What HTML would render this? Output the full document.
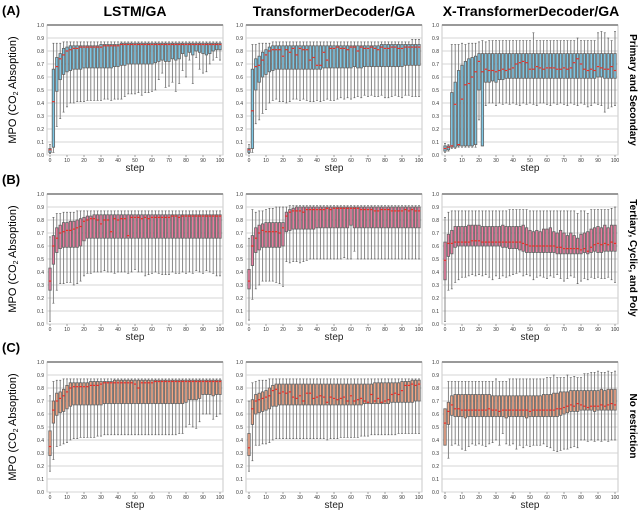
<!DOCTYPE html>
<html><head><meta charset="utf-8"><style>
html,body{margin:0;padding:0;background:#fff;width:640px;height:511px;overflow:hidden}
svg{display:block;font-family:"Liberation Sans",sans-serif}
</style></head><body>
<svg id="fig" width="640" height="511" viewBox="0 0 640 511" xmlns="http://www.w3.org/2000/svg">
<text x="2" y="15" font-size="13" font-weight="bold">(A)</text>
<text x="2" y="184" font-size="13" font-weight="bold">(B)</text>
<text x="2" y="352" font-size="13" font-weight="bold">(C)</text>
<text x="135" y="16" font-size="14" font-weight="bold" text-anchor="middle">LSTM/GA</text>
<text x="334" y="16" font-size="14" font-weight="bold" text-anchor="middle">TransformerDecoder/GA</text>
<text x="531" y="16" font-size="14" font-weight="bold" text-anchor="middle">X-TransformerDecoder/GA</text>
<text transform="translate(630,90) rotate(90)" font-size="10" font-weight="bold" text-anchor="middle">Primary and Secondary</text>
<text transform="translate(630,258) rotate(90)" font-size="10" font-weight="bold" text-anchor="middle">Tertiary, Cyclic, and Poly</text>
<text transform="translate(630,426) rotate(90)" font-size="10" font-weight="bold" text-anchor="middle">No restriction</text>
</svg>
<script>
const steps=[0,2,4,6,8,10,12,14,16,18,20,22,24,26,28,30,32,34,36,38,40,42,44,46,48,50,52,54,56,58,60,62,64,66,68,70,72,74,76,78,80,82,84,86,88,90,92,94,96,98,100];
const yTicks=[0,0.1,0.2,0.3,0.4,0.5,0.6,0.7,0.8,0.9,1.0];
const xTicks=[0,10,20,30,40,50,60,70,80,90,100];
// Panel A1 LSTM / Primary
const a1Lo=[.01,.02,.22,.28,.33,.37,.40,.40,.41,.41,.41,.42,.42,.42,.42,.42,.43,.43,.42,.43,.43,.43,.45,.47,.47,.47,.48,.46,.48,.48,.49,.50,.58,.63,.52,.53,.56,.49,.55,.65,.60,.73,.55,.75,.66,.63,.64,.70,.73,.75,.73];
const a1Q1=[.02,.06,.49,.58,.62,.64,.65,.66,.66,.66,.67,.67,.67,.67,.67,.67,.67,.67,.67,.68,.68,.69,.69,.70,.70,.70,.70,.70,.70,.70,.70,.71,.72,.73,.72,.72,.74,.73,.74,.78,.76,.79,.77,.80,.79,.78,.77,.78,.80,.81,.81];
const a1Med=[.04,.41,.68,.74,.77,.80,.81,.82,.82,.83,.83,.83,.83,.83,.83,.83,.84,.84,.84,.84,.84,.85,.85,.85,.85,.85,.85,.85,.85,.85,.85,.85,.85,.85,.85,.85,.85,.85,.85,.85,.85,.85,.85,.85,.85,.85,.85,.85,.85,.85,.85];
const a1Q3=[.05,.66,.75,.78,.82,.83,.84,.84,.84,.84,.84,.84,.84,.84,.84,.85,.85,.85,.85,.85,.85,.86,.86,.86,.86,.86,.86,.86,.86,.86,.86,.86,.86,.86,.86,.86,.86,.86,.86,.86,.86,.86,.86,.86,.86,.86,.86,.86,.86,.86,.86];
const a1Hi=[.08,.86,.86,.86,.87,.87,.87,.87,.87,.87,.87,.87,.87,.87,.87,.87,.87,.87,.87,.87,.87,.87,.87,.87,.87,.87,.87,.87,.87,.87,.87,.87,.87,.87,.87,.87,.87,.87,.87,.87,.87,.87,.87,.87,.87,.87,.87,.87,.87,.87,.87];
// Panel A2 Transformer / Primary
const a2Lo=[.01,.02,.24,.27,.32,.35,.40,.42,.43,.41,.41,.40,.41,.43,.43,.42,.43,.42,.41,.41,.42,.41,.42,.43,.42,.42,.43,.44,.43,.44,.43,.44,.45,.44,.46,.45,.46,.45,.45,.46,.44,.44,.45,.46,.45,.44,.46,.46,.45,.45,.45];
const a2Q1=[.02,.05,.50,.56,.60,.62,.64,.65,.66,.66,.66,.66,.66,.66,.66,.66,.66,.66,.66,.66,.66,.66,.67,.67,.67,.67,.67,.67,.67,.67,.67,.68,.67,.67,.68,.68,.68,.68,.68,.68,.68,.68,.68,.68,.68,.68,.69,.69,.69,.69,.69];
const a2Med=[.04,.34,.68,.69,.73,.77,.80,.81,.81,.81,.76,.81,.79,.82,.77,.82,.81,.81,.73,.75,.69,.69,.79,.73,.82,.82,.83,.82,.82,.81,.83,.83,.80,.83,.82,.82,.83,.82,.81,.83,.82,.82,.83,.83,.82,.82,.83,.83,.83,.83,.83];
const a2Q3=[.05,.66,.74,.76,.79,.81,.83,.84,.84,.84,.84,.84,.84,.84,.84,.84,.84,.84,.84,.84,.84,.84,.84,.84,.84,.84,.84,.84,.84,.84,.84,.84,.84,.84,.84,.84,.84,.84,.84,.85,.85,.85,.85,.85,.85,.85,.85,.85,.85,.85,.85];
const a2Hi=[.08,.85,.85,.86,.86,.86,.86,.87,.87,.87,.87,.87,.87,.87,.87,.87,.87,.87,.87,.87,.87,.87,.87,.87,.87,.87,.87,.87,.87,.87,.87,.87,.87,.87,.87,.87,.87,.87,.87,.87,.87,.87,.87,.87,.87,.87,.87,.87,.89,.89,.89];
// Panel A3 X-Transformer / Primary
const a3Lo=[.02,.03,.05,.05,.06,.06,.06,.06,.06,.06,.27,.07,.38,.40,.40,.38,.40,.39,.40,.39,.40,.39,.38,.40,.39,.40,.39,.38,.40,.40,.39,.38,.40,.39,.40,.39,.38,.40,.39,.38,.40,.39,.37,.38,.40,.39,.38,.33,.36,.37,.38];
const a3Q1=[.03,.04,.06,.06,.07,.07,.07,.07,.07,.08,.50,.07,.56,.56,.57,.56,.58,.58,.59,.59,.59,.59,.59,.59,.59,.59,.59,.59,.59,.59,.59,.59,.59,.59,.59,.59,.59,.59,.59,.59,.59,.59,.59,.59,.59,.60,.60,.59,.59,.59,.59];
const a3Med=[.05,.06,.07,.39,.08,.43,.54,.55,.60,.64,.72,.64,.66,.65,.65,.64,.65,.66,.65,.66,.67,.70,.71,.72,.71,.66,.66,.68,.67,.66,.67,.67,.67,.66,.66,.67,.66,.67,.71,.74,.70,.66,.65,.66,.65,.68,.67,.66,.66,.68,.65];
const a3Q3=[.07,.07,.48,.56,.65,.69,.72,.74,.75,.76,.78,.78,.78,.78,.78,.78,.78,.78,.78,.78,.78,.78,.78,.78,.78,.78,.78,.78,.78,.78,.78,.78,.78,.78,.78,.78,.78,.78,.78,.78,.78,.78,.78,.78,.78,.78,.78,.78,.78,.78,.78];
const a3Hi=[.09,.08,.85,.85,.85,.86,.85,.86,.86,.86,.87,.88,.87,.88,.88,.88,.88,.88,.88,.88,.88,.88,.88,.88,.88,.88,.94,.88,.88,.88,.88,.88,.88,.88,.88,.88,.88,.88,.88,.90,.88,.88,.88,.88,.88,.94,.95,.94,.90,.88,.95];
// Panel B1 LSTM / Tertiary
const b1Lo=[.02,.16,.26,.31,.31,.32,.32,.30,.31,.33,.37,.39,.39,.40,.40,.40,.41,.40,.40,.39,.40,.40,.40,.39,.40,.42,.40,.40,.37,.38,.39,.40,.39,.38,.38,.38,.40,.39,.39,.40,.39,.40,.39,.41,.40,.39,.41,.40,.39,.37,.37];
const b1Q1=[.26,.46,.55,.58,.59,.59,.59,.59,.59,.60,.64,.66,.66,.66,.66,.66,.66,.66,.66,.66,.66,.66,.66,.66,.66,.66,.66,.66,.66,.66,.66,.66,.66,.66,.66,.66,.66,.66,.66,.66,.66,.66,.66,.66,.66,.66,.66,.66,.66,.66,.66];
const b1Med=[.33,.60,.66,.70,.71,.72,.72,.73,.74,.75,.79,.80,.81,.81,.80,.77,.80,.80,.71,.81,.80,.81,.81,.68,.82,.82,.82,.81,.82,.81,.82,.82,.82,.82,.82,.82,.83,.83,.82,.83,.83,.83,.83,.83,.83,.83,.83,.83,.83,.83,.83];
const b1Q3=[.43,.68,.74,.76,.78,.78,.79,.79,.80,.81,.82,.83,.83,.84,.84,.84,.84,.84,.84,.84,.84,.84,.84,.84,.84,.84,.84,.84,.84,.84,.84,.84,.84,.84,.84,.84,.84,.84,.84,.84,.84,.84,.84,.84,.84,.84,.84,.84,.84,.84,.84];
const b1Hi=[.67,.82,.85,.85,.86,.86,.86,.86,.87,.87,.87,.87,.87,.87,.87,.87,.87,.87,.87,.87,.87,.87,.87,.87,.87,.87,.87,.87,.87,.87,.87,.87,.87,.87,.87,.87,.87,.87,.87,.87,.87,.87,.87,.87,.87,.87,.87,.87,.87,.87,.87];
// Panel B2 Transformer / Tertiary
const b2Lo=[.03,.19,.27,.30,.33,.33,.33,.33,.32,.31,.29,.48,.47,.48,.48,.47,.48,.49,.50,.50,.50,.50,.50,.50,.50,.50,.50,.50,.51,.50,.50,.56,.50,.50,.50,.50,.50,.50,.50,.50,.50,.50,.50,.50,.50,.50,.50,.50,.50,.50,.50];
const b2Q1=[.27,.45,.55,.57,.59,.59,.59,.59,.59,.59,.60,.71,.72,.73,.73,.73,.73,.73,.73,.73,.74,.74,.74,.74,.74,.74,.74,.74,.74,.74,.76,.74,.74,.74,.74,.74,.74,.74,.74,.74,.74,.74,.74,.74,.74,.74,.74,.74,.74,.74,.74];
const b2Med=[.33,.60,.66,.70,.72,.71,.71,.71,.71,.70,.74,.83,.86,.87,.87,.87,.86,.88,.88,.88,.88,.88,.88,.89,.88,.89,.89,.89,.89,.89,.89,.89,.89,.88,.88,.88,.88,.87,.87,.88,.88,.88,.87,.87,.87,.87,.88,.87,.88,.87,.87];
const b2Q3=[.42,.68,.74,.76,.77,.78,.78,.78,.78,.78,.78,.86,.88,.89,.90,.90,.90,.90,.90,.90,.90,.90,.90,.90,.90,.90,.90,.90,.90,.90,.90,.90,.90,.90,.90,.90,.90,.90,.90,.90,.90,.90,.90,.90,.90,.90,.90,.90,.90,.90,.90];
const b2Hi=[.66,.88,.86,.87,.87,.88,.89,.89,.90,.90,.90,.90,.91,.91,.91,.91,.91,.91,.91,.91,.91,.91,.91,.91,.91,.91,.91,.91,.91,.91,.91,.91,.91,.91,.91,.91,.91,.91,.91,.91,.91,.91,.91,.91,.91,.91,.91,.91,.91,.91,.91];
// Panel B3 X-Transformer / Tertiary
const b3Lo=[.02,.26,.27,.32,.34,.36,.36,.37,.38,.37,.38,.37,.38,.36,.34,.37,.35,.37,.36,.37,.38,.39,.40,.37,.38,.37,.34,.36,.37,.36,.35,.37,.36,.38,.35,.33,.35,.37,.36,.31,.33,.35,.34,.36,.35,.36,.35,.35,.36,.34,.32];
const b3Q1=[.34,.52,.54,.59,.60,.60,.60,.60,.60,.60,.60,.60,.60,.60,.60,.60,.60,.59,.59,.58,.58,.58,.57,.56,.55,.55,.55,.55,.55,.55,.55,.55,.55,.54,.54,.54,.54,.54,.54,.54,.54,.55,.54,.55,.56,.55,.55,.56,.56,.56,.56];
const b3Med=[.49,.62,.62,.63,.63,.63,.63,.63,.64,.64,.64,.63,.63,.63,.63,.63,.63,.63,.63,.63,.63,.63,.63,.62,.61,.60,.60,.60,.60,.60,.60,.60,.60,.59,.59,.58,.58,.58,.58,.58,.57,.58,.56,.59,.61,.62,.61,.62,.61,.63,.62];
const b3Q3=[.63,.69,.72,.75,.75,.75,.75,.76,.76,.76,.76,.75,.75,.75,.75,.75,.75,.76,.75,.75,.75,.75,.75,.76,.74,.72,.71,.72,.71,.73,.73,.74,.71,.70,.72,.70,.68,.70,.68,.66,.69,.70,.71,.73,.74,.75,.74,.76,.74,.76,.76];
const b3Hi=[.82,.86,.87,.87,.87,.87,.87,.87,.87,.87,.87,.87,.87,.87,.87,.87,.87,.87,.87,.88,.88,.88,.88,.88,.88,.87,.87,.87,.87,.87,.87,.87,.87,.87,.87,.87,.87,.87,.87,.85,.87,.87,.85,.88,.88,.88,.88,.88,.88,.89,.90];
// Panel C1 LSTM / No restriction
const c1Lo=[.16,.25,.35,.36,.37,.38,.40,.41,.41,.42,.42,.42,.42,.42,.43,.43,.44,.44,.44,.44,.44,.44,.44,.44,.44,.44,.44,.44,.44,.44,.44,.44,.44,.44,.44,.44,.44,.44,.45,.45,.50,.52,.50,.49,.54,.60,.60,.60,.56,.58,.60];
const c1Q1=[.28,.53,.59,.61,.62,.64,.66,.67,.67,.67,.67,.67,.67,.67,.67,.67,.68,.68,.68,.68,.68,.68,.68,.68,.68,.68,.68,.68,.68,.68,.68,.68,.68,.68,.68,.68,.68,.68,.68,.68,.69,.71,.71,.71,.72,.75,.75,.75,.74,.75,.75];
const c1Med=[.35,.63,.70,.72,.74,.77,.80,.81,.81,.81,.81,.81,.82,.82,.82,.83,.84,.84,.84,.84,.84,.84,.84,.84,.84,.83,.80,.84,.84,.84,.84,.85,.85,.85,.85,.85,.85,.85,.85,.85,.85,.85,.85,.85,.85,.85,.85,.85,.85,.85,.85];
const c1Q3=[.47,.70,.76,.77,.79,.82,.84,.84,.84,.84,.84,.84,.85,.85,.85,.85,.85,.85,.85,.86,.86,.86,.86,.86,.86,.86,.86,.86,.86,.86,.86,.86,.86,.86,.86,.86,.86,.86,.86,.86,.86,.86,.86,.86,.86,.86,.86,.86,.86,.86,.86];
const c1Hi=[.74,.85,.86,.86,.87,.87,.87,.87,.87,.87,.87,.87,.87,.87,.87,.87,.87,.87,.87,.87,.87,.87,.87,.87,.87,.87,.87,.87,.87,.87,.87,.87,.87,.87,.87,.87,.87,.87,.87,.87,.87,.87,.87,.87,.87,.87,.87,.87,.87,.87,.87];
// Panel C2 Transformer / No restriction
const c2Lo=[.16,.24,.36,.36,.37,.37,.38,.40,.41,.41,.41,.41,.41,.41,.41,.41,.41,.41,.41,.41,.41,.41,.41,.40,.41,.41,.41,.42,.42,.42,.42,.42,.42,.43,.43,.43,.44,.44,.44,.44,.44,.44,.44,.44,.45,.45,.45,.45,.45,.45,.45];
const c2Q1=[.28,.52,.60,.61,.62,.63,.64,.66,.66,.67,.67,.67,.67,.67,.67,.67,.67,.67,.67,.67,.67,.67,.67,.67,.67,.67,.67,.67,.67,.67,.67,.67,.67,.67,.68,.68,.68,.68,.68,.68,.68,.68,.69,.69,.69,.69,.69,.69,.69,.70,.70];
const c2Med=[.34,.64,.70,.71,.72,.73,.74,.78,.79,.76,.77,.76,.77,.73,.72,.74,.70,.76,.76,.72,.73,.74,.73,.69,.73,.72,.71,.72,.73,.70,.74,.70,.71,.72,.70,.69,.75,.70,.72,.69,.70,.71,.75,.76,.75,.78,.82,.82,.83,.82,.83];
const c2Q3=[.45,.71,.75,.76,.77,.78,.80,.82,.83,.83,.83,.83,.83,.83,.83,.83,.83,.83,.83,.83,.83,.83,.83,.83,.83,.83,.83,.83,.83,.83,.83,.83,.83,.83,.83,.83,.83,.84,.84,.84,.84,.84,.84,.84,.84,.85,.85,.85,.86,.86,.86];
const c2Hi=[.70,.84,.85,.86,.86,.86,.87,.87,.87,.87,.87,.87,.87,.87,.87,.87,.87,.87,.87,.87,.87,.87,.87,.87,.87,.87,.87,.87,.87,.87,.87,.87,.87,.87,.87,.87,.87,.87,.87,.87,.87,.87,.87,.87,.87,.87,.87,.87,.87,.87,.87];
// Panel C3 X-Transformer / No restriction
const c3Lo=[.36,.26,.36,.37,.36,.33,.32,.35,.37,.36,.37,.36,.35,.37,.38,.40,.36,.45,.37,.36,.37,.33,.36,.34,.36,.35,.36,.36,.36,.37,.35,.34,.32,.31,.32,.33,.33,.34,.35,.34,.40,.40,.39,.40,.39,.40,.39,.40,.39,.40,.40];
const c3Q1=[.36,.52,.59,.58,.58,.58,.57,.58,.58,.58,.58,.58,.58,.58,.58,.58,.58,.58,.57,.58,.58,.58,.58,.58,.57,.58,.58,.58,.58,.58,.58,.58,.58,.58,.59,.60,.61,.62,.62,.62,.63,.63,.63,.63,.62,.63,.63,.63,.63,.63,.63];
const c3Med=[.53,.62,.67,.64,.64,.63,.63,.63,.63,.63,.63,.63,.63,.64,.63,.63,.62,.63,.63,.63,.63,.63,.63,.63,.63,.62,.63,.63,.63,.63,.63,.63,.63,.64,.64,.65,.66,.67,.66,.68,.67,.66,.65,.66,.66,.66,.67,.66,.67,.68,.67];
const c3Q3=[.64,.69,.74,.75,.75,.75,.75,.75,.75,.75,.75,.75,.75,.75,.74,.74,.74,.74,.74,.74,.74,.74,.74,.74,.74,.74,.74,.74,.74,.75,.75,.75,.76,.76,.77,.77,.77,.78,.78,.78,.78,.78,.78,.78,.78,.78,.79,.78,.79,.79,.79];
const c3Hi=[.64,.85,.85,.85,.85,.85,.85,.85,.85,.85,.85,.85,.85,.85,.85,.87,.85,.85,.85,.87,.87,.87,.87,.87,.87,.87,.87,.87,.87,.87,.88,.88,.90,.88,.88,.88,.90,.88,.89,.88,.88,.91,.91,.92,.92,.93,.92,.92,.93,.92,.93];

const NS='http://www.w3.org/2000/svg';
const svg=document.getElementById('fig');
function mk(tag,attrs,parent){const e=document.createElementNS(NS,tag);for(const k in attrs)e.setAttribute(k,attrs[k]);(parent||svg).appendChild(e);return e;}
const colX=[47,246,442],rowY=[25,194,362],W=176,H=130;
const colNames=['lstm','transformer','x-transformer'],rowNames=['primary','tertiary','none'];
const fills=['#7cc6e4','#ea7c9f','#f2a585'];
const panels=[
 [[a1Lo,a1Q1,a1Med,a1Q3,a1Hi],[a2Lo,a2Q1,a2Med,a2Q3,a2Hi],[a3Lo,a3Q1,a3Med,a3Q3,a3Hi]],
 [[b1Lo,b1Q1,b1Med,b1Q3,b1Hi],[b2Lo,b2Q1,b2Med,b2Q3,b2Hi],[b3Lo,b3Q1,b3Med,b3Q3,b3Hi]],
 [[c1Lo,c1Q1,c1Med,c1Q3,c1Hi],[c2Lo,c2Q1,c2Med,c2Q3,c2Hi],[c3Lo,c3Q1,c3Med,c3Q3,c3Hi]]];
for(let r=0;r<3;r++){
 const yt=mk('text',{transform:`translate(16,${rowY[r]+H/2}) rotate(-90)`,'font-size':'11','text-anchor':'middle'});
 
 
 yt.innerHTML='MPO (CO<tspan font-size="7" dy="2">2</tspan><tspan dy="-2"> Absoption)</tspan>';
 for(let c=0;c<3;c++){
  const x0=colX[c],y0=rowY[r];
  const g=mk('g',{});
  
  
  const sy=v=>y0+H*(1-v);
  const sx=s=>x0+3+s*(W-6)/100;
  mk('rect',{x:x0,y:y0,width:W,height:H,fill:'#fff',stroke:'#bbb','stroke-width':0.8},g);
  yTicks.forEach(t=>{
   const gl=mk('line',{x1:x0,x2:x0+W,y1:sy(t),y2:sy(t),stroke:(t===1?'#999':'#d4d4d4'),'stroke-width':(t===1?2:1)},g);
   
   
   const tl=mk('text',{x:x0-3,y:sy(t)+1.8,'font-size':'5','text-anchor':'end',fill:'#333'},g);
   
   
   tl.textContent=t.toFixed(1);
  });
  xTicks.forEach(t=>{
   mk('line',{x1:sx(t),x2:sx(t),y1:y0+H,y2:y0+H+2,stroke:'#666','stroke-width':0.6},g);
   const tl=mk('text',{x:sx(t),y:y0+H+7,'font-size':'5','text-anchor':'middle',fill:'#333'},g);
   
   
   tl.textContent=t;
  });
  const st=mk('text',{x:x0+W/2,y:y0+H+16,'font-size':'10','text-anchor':'middle',fill:'#222'},g);
  
  
  st.textContent='step';
  const [lo,q1,md,q3,hi]=panels[r][c];
  const bw=2.4;
  steps.forEach((s,i)=>{
   const cx=sx(s);
   const b=mk('g',{},g);
   
   
   mk('line',{x1:cx,x2:cx,y1:sy(hi[i]),y2:sy(lo[i]),stroke:'#7a7a7a','stroke-width':0.9},b);
   mk('line',{x1:cx-1,x2:cx+1,y1:sy(hi[i]),y2:sy(hi[i]),stroke:'#555','stroke-width':0.6},b);
   mk('line',{x1:cx-1,x2:cx+1,y1:sy(lo[i]),y2:sy(lo[i]),stroke:'#555','stroke-width':0.6},b);
   const top=sy(q3[i]),bot=sy(q1[i]);
   mk('rect',{x:cx-bw/2,y:top,width:bw,height:Math.max(0.5,bot-top),fill:fills[r],stroke:'#666','stroke-width':0.85},b);
   mk('line',{x1:cx-1.3,x2:cx+1.3,y1:sy(md[i]),y2:sy(md[i]),stroke:'#e8302a','stroke-width':1.2},b);
  });
 }
}
</script>
</body></html>
